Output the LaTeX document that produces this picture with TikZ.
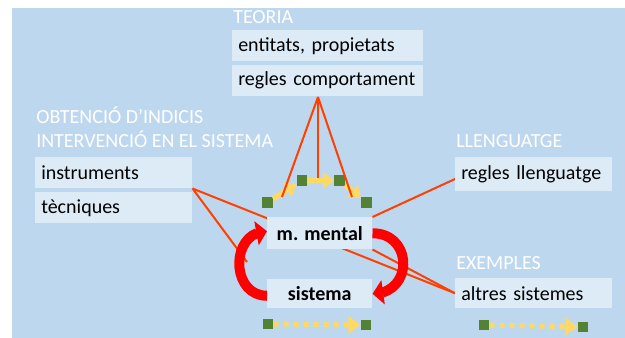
\documentclass[tikz,border=0pt]{standalone}
\usepackage{fontspec}
\setmainfont{Carlito}
\usetikzlibrary{arrows.meta,bending,calc}
\definecolor{bg}{RGB}{189,215,238}
\definecolor{boxc}{RGB}{221,235,247}
\definecolor{sqgreen}{RGB}{84,130,53}
\definecolor{yel}{RGB}{255,217,102}
\definecolor{redl}{RGB}{255,64,0}
\definecolor{reda}{RGB}{255,0,0}
\pgfdeclarelayer{back}
\pgfsetlayers{back,main}
\begin{document}
\begin{tikzpicture}[x=0.75pt,y=-0.75pt, font=\fontsize{15pt}{18pt}\selectfont,
 box/.style={fill=boxc, anchor=north west, inner xsep=4.5pt, inner ysep=0pt, align=left},
 wbox/.style={box, text width=134.25pt, minimum height=23.25pt},
 nbox/.style={box, text width=108.75pt, minimum height=23.25pt},
 cbox/.style={fill=boxc, anchor=north west, inner sep=0pt, minimum width=78.75pt, font=\fontsize{15pt}{18pt}\selectfont\bfseries},
 lbl/.style={text=white, anchor=base west, inner sep=0pt},
 sq/.style={fill=sqgreen, minimum size=8pt, inner sep=0pt},
 yarr/.style={draw=yel, line width=4pt, -{Triangle[length=8pt,width=12pt]}},
 ydot/.style={draw=yel, line width=3.75pt, dash pattern=on 3.75pt off 3.75pt, -{Triangle[length=9pt,width=13pt]}},
 rline/.style={draw=redl, line width=1.5pt},
 rarr/.style={draw=reda, line width=7.5pt, -{Triangle[length=8pt,width=18pt,flex]}}]
\useasboundingbox (0,0) rectangle (625,338);
% boxes
\node[wbox] (ent) at (232,30) {entitats, propietats};
\node[wbox] (reg) at (232,65) {regles comportament};
\node[nbox] (ins) at (35,157) {instruments};
\node[nbox] (tec) at (35,192) {tècniques};
\node[nbox, minimum height=25.5pt] (rl) at (455,157) {regles llenguatge};
\node[nbox, minimum height=22.5pt] (alt) at (455,278) {altres sistemes};
\node[cbox, minimum height=24pt] (mm) at (267,217) {m. mental};
\node[cbox, minimum height=21.75pt] (sis) at (267,279) {sistema};
% labels
\node[lbl] (lt) at (233,23.5) {TEORIA};
\node[lbl] (lo1) at (36,124) {OBTENCIÓ D’INDICIS};
\node[lbl] (lo2) at (36,148) {INTERVENCIÓ EN EL SISTEMA};
\node[lbl] (ll) at (456,148) {LLENGUATGE};
\node[lbl] (le) at (456,270) {EXEMPLES};
% background and lines behind boxes
\coordinate (lend) at (247,262);
\coordinate (rlp) at ($(rl.north west)+(0,22)$);
\begin{pgfonlayer}{back}
\fill[white] (0,0) rectangle (625,338);
\fill[bg] (12,8) rectangle (625,338);
\draw[rline] (ins.south east) -- (alt.west);
\draw[rline] (mm.south east) -- (alt.west);
\draw[rline] (rlp) -- (mm.north east);
\draw[rline] (ins.south east) -- (lend);
\end{pgfonlayer}
% green squares and yellow arrows
\node[sq] (s1) at (267.5,202.5) {};
\node[sq] (s2) at (302,180.5) {};
\node[sq] (s3) at (339.5,180.5) {};
\node[sq] (s4) at (366.5,202.5) {};
\node[sq] (b1) at (268,324) {};
\node[sq] (b2) at (366,325) {};
\node[sq] (c1) at (484,325) {};
\node[sq] (c2) at (583,327) {};
\draw[yarr] (s1) -- (s2);
\draw[yarr] (s2) -- (s3);
\draw[yarr] (s3) -- (s4);
\draw[ydot] (b1) -- (b2);
\draw[ydot] (c1) -- (c2);
% red lines from theory
\coordinate (apex) at (318,97);
\coordinate (e1) at (282,197);
\coordinate (e2) at (318,178);
\coordinate (e3) at (352,197);
\draw[rline] (apex) -- (e1);
\draw[rline] (apex) -- (e2);
\draw[rline] (apex) -- (e3);
% red cycle arrows
\draw[rarr] ($(sis.west)+(0,2)$) .. controls +(-37,0) and +(-37,0) .. ($(mm.west)+(0,-2)$);
\draw[rarr] (mm.east) .. controls +(41,0) and +(41,0) .. (sis.east);
\end{tikzpicture}
\end{document}
